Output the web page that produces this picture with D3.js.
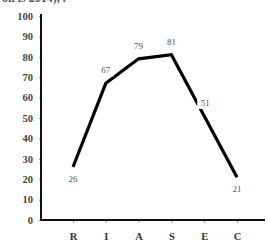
<!DOCTYPE html>
<html><head><meta charset="utf-8">
<script src="https://cdn.jsdelivr.net/npm/d3@7"></script>
<style>body{margin:0;background:#fff}svg{display:block}</style>
</head><body>
<script>
const categories = ["R","I","A","S","E","C"];
const values = [26, 67, 79, 81, 51, 21];
const yTicks = [0,10,20,30,40,50,60,70,80,90,100];
const labelBelow = [true,false,false,false,false,true];

const W = 268, H = 242;
const svg = d3.select("body").append("svg").attr("width", W).attr("height", H);

// partial caption line clipped at top
svg.append("text").attr("x", 2).attr("y", 1.5)
  .attr("font-family","Liberation Serif").attr("font-size", 12).attr("font-weight","bold")
  .attr("fill","#555").text("on is 2014), .");

const x = d3.scalePoint().domain(categories).range([73, 237]);
const y = d3.scaleLinear().domain([0, 100]).range([220, 16]);

// y axis
const ya = svg.append("g").attr("transform","translate(41,0)")
  .call(d3.axisLeft(y).tickValues(yTicks).tickSize(2).tickPadding(6));
ya.select(".domain").remove();
ya.selectAll(".tick line").attr("stroke","#999");
ya.selectAll("text").attr("font-family","Liberation Serif").attr("font-size",10.5)
  .attr("font-weight","bold").attr("fill","#444");

// x axis
const xa = svg.append("g").attr("transform","translate(0,220)")
  .call(d3.axisBottom(x).tickSize(3).tickPadding(10));
xa.select(".domain").remove();
xa.selectAll(".tick line").attr("stroke","#999");
xa.selectAll("text").attr("font-family","Liberation Serif").attr("font-size",10.5)
  .attr("font-weight","bold").attr("fill","#333");

// axis lines
svg.append("path").attr("d", `M41,${y(100)-2}V${y(0)}H265`)
  .attr("fill","none").attr("stroke","#111").attr("stroke-width",2);

// data line
const line = d3.line().x((d,i)=>x(categories[i])).y(d=>y(d));
svg.append("path").datum(values).attr("d", line)
  .attr("fill","none").attr("stroke","#000").attr("stroke-width",3.2)
  .attr("stroke-linejoin","miter");

// labels with white background
const lg = svg.append("g");
values.forEach((v,i)=>{
  const cx = x(categories[i]) + (i===4?1:0);
  const cy = y(v) + (labelBelow[i] ? 12 : -13);
  lg.append("rect").attr("x", cx-8).attr("y", cy-6).attr("width",16).attr("height",12).attr("fill","#fff");
  lg.append("text").attr("x", cx).attr("y", cy).attr("dy","0.35em")
    .attr("text-anchor","middle").attr("font-family","Liberation Serif")
    .attr("font-size",9).attr("fill","#555").text(v);
});
</script>
</body></html>
